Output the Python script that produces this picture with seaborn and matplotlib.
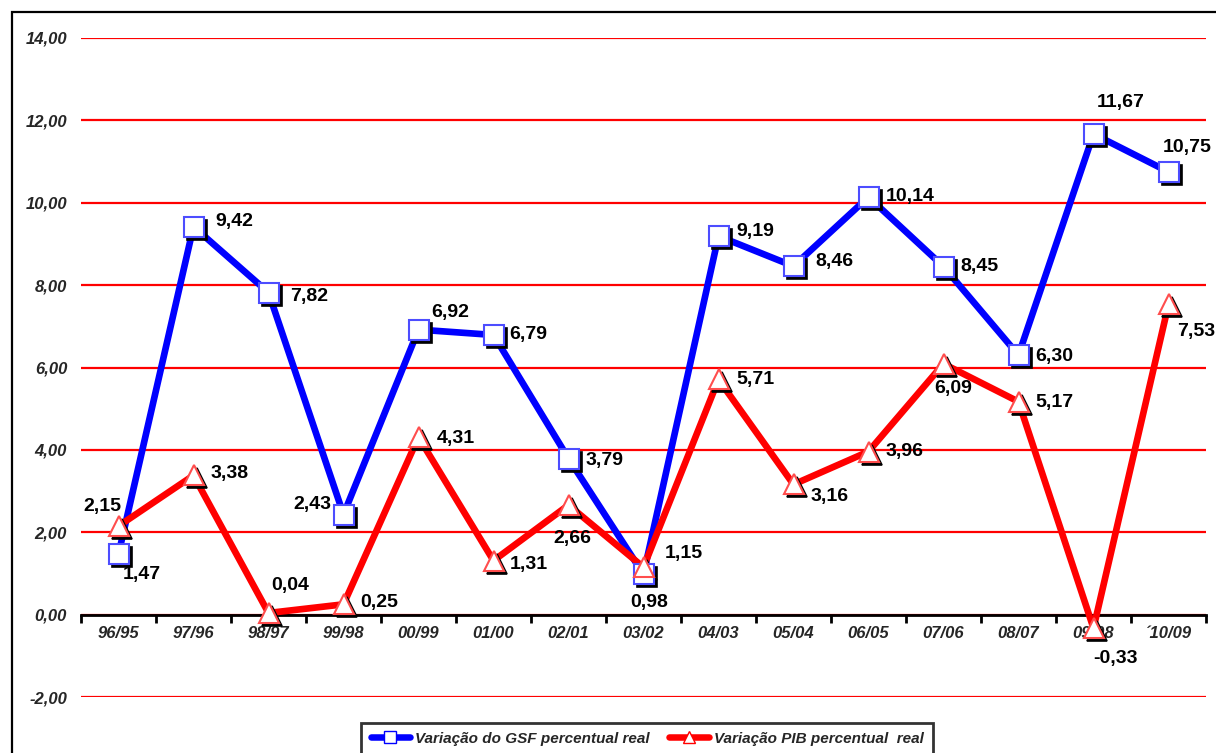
import numpy as np
import pandas as pd
import matplotlib
matplotlib.use("Agg")
import matplotlib.pyplot as plt
import matplotlib.transforms as mtransforms
from matplotlib.lines import Line2D
from matplotlib.patches import Rectangle
import seaborn as sns

periodos = ["96/95", "97/96", "98/97", "99/98", "00/99", "01/00", "02/01", "03/02",
            "04/03", "05/04", "06/05", "07/06", "08/07", "09/08", "\u00b410/09"]
gsf = [1.47, 9.42, 7.82, 2.43, 6.92, 6.79, 3.79, 0.98, 9.19, 8.46, 10.14, 8.45, 6.30, 11.67, 10.75]
pib = [2.15, 3.38, 0.04, 0.25, 4.31, 1.31, 2.66, 1.15, 5.71, 3.16, 3.96, 6.09, 5.17, -0.33, 7.53]
nome_gsf = "Variação do GSF percentual real"
nome_pib = "Variação PIB percentual  real"

# label offsets in pixels (dx, dy, ha)
off_gsf = [(4, -20, "left"), (22, 5, "left"), (22, -4, "left"), (-12, 10, "right"),
           (13, 17, "left"), (16, 0, "left"), (17, -2, "left"), (6, -28, "center"),
           (18, 5, "left"), (22, 5, "left"), (17, 0, "left"), (17, 0, "left"),
           (17, -1, "left"), (27, 31, "center"), (19, 24, "center")]
off_pib = [(-16, 20, "center"), (17, 2, "left"), (22, 27, "center"), (17, 2, "left"),
           (18, -1, "left"), (16, -4, "left"), (4, -33, "center"), (21, 14, "left"),
           (18, 0, "left"), (17, -12, "left"), (17, 0, "left"), (10, -25, "center"),
           (17, -1, "left"), (22, -30, "center"), (9, -27, "left")]

df = pd.DataFrame({"periodo": periodos * 2,
                   "valor": gsf + pib,
                   "serie": [nome_gsf] * len(gsf) + [nome_pib] * len(pib)})
df["pos"] = list(range(len(periodos))) * 2

sns.set_theme(style="white")
plt.rcParams["font.family"] = ["Liberation Sans", "DejaVu Sans"]

fig = plt.figure(figsize=(12.16, 7.53), dpi=100)
ax = fig.add_axes([81 / 1216, 56 / 753, 1125 / 1216, 659 / 753])

cores = {nome_gsf: "#0000ff", nome_pib: "#ff0000"}
sns.lineplot(data=df, x="pos", y="valor", hue="serie", palette=cores,
             linewidth=4.8, legend=False, ax=ax, zorder=3)

shadow = mtransforms.offset_copy(ax.transData, fig=fig, x=3, y=-3, units="dots")
marcas = {nome_gsf: ("s", "#4d4dff", 14), nome_pib: ("^", "#ff4d4d", 14)}
for serie, vals in [(nome_gsf, gsf), (nome_pib, pib)]:
    m, c, s = marcas[serie]
    ax.plot(range(len(vals)), vals, ls="none", marker=m, ms=s, mfc="black",
            mec="black", mew=1.2, transform=shadow, zorder=4)
    ax.plot(range(len(vals)), vals, ls="none", marker=m, ms=s, mfc="white",
            mec=c, mew=1.5, zorder=5)

for vals, offs in [(gsf, off_gsf), (pib, off_pib)]:
    for i, (v, (dx, dy, ha)) in enumerate(zip(vals, offs)):
        ax.annotate(f"{v:.2f}".replace(".", ","), (i, v), xytext=(dx, dy),
                    textcoords="offset pixels", ha=ha, va="center",
                    fontsize=14, fontweight="bold", color="black", zorder=6)

ax.set_xlim(-0.5, len(periodos) - 0.5)
ax.set_ylim(-2, 14)
ax.set_yticks(np.arange(-2, 15, 2))
ax.set_yticklabels([f"{t:.2f}".replace(".", ",") for t in np.arange(-2, 15, 2)])
ax.set_xticks(range(len(periodos)))
ax.set_xticklabels(periodos)
ax.set_xticks(np.arange(-0.5, len(periodos), 1), minor=True)
ax.tick_params(axis="x", which="major", length=0, pad=8)
ax.tick_params(axis="x", which="minor", length=6, width=2, color="black", direction="out", bottom=True)
ax.tick_params(axis="y", length=0, pad=10)
ax.set_xlabel("")
ax.set_ylabel("")

ax.yaxis.grid(True, color="#ff0000", linewidth=1.6)
ax.xaxis.grid(False)
for lado in ["top", "right", "left"]:
    ax.spines[lado].set_visible(False)
ax.spines["bottom"].set_position(("data", 0))
ax.spines["bottom"].set_color("black")
ax.spines["bottom"].set_linewidth(2)
ax.spines["bottom"].set_zorder(2.5)

handles = [Line2D([], [], color="#0000ff", lw=4.7, marker="s", ms=8, mfc="white", mec="#0000ff"),
           Line2D([], [], color="#ff0000", lw=4.7, marker="^", ms=8, mfc="white", mec="#ff0000")]
leg = fig.legend(handles, [nome_gsf, nome_pib], loc="upper center",
                 bbox_to_anchor=(647 / 1216, 38 / 753), ncol=2, frameon=True,
                 fancybox=False, handlelength=2.6, handletextpad=0.3, columnspacing=1.3,
                 borderpad=0.6, prop={"size": 11, "weight": "bold", "style": "italic"})
leg.get_frame().set_edgecolor("black")
leg.get_frame().set_linewidth(2)

fig.patches.append(Rectangle((12 / 1216, -0.05), 1.1, 1 - 12 / 753 + 0.05,
                             transform=fig.transFigure, fill=False,
                             edgecolor="black", linewidth=1.6))

for lbl in ax.get_xticklabels() + ax.get_yticklabels():
    lbl.set_fontsize(12)
    lbl.set_fontweight("bold")
    lbl.set_fontstyle("italic")

fig.savefig("out.png", dpi=100)
